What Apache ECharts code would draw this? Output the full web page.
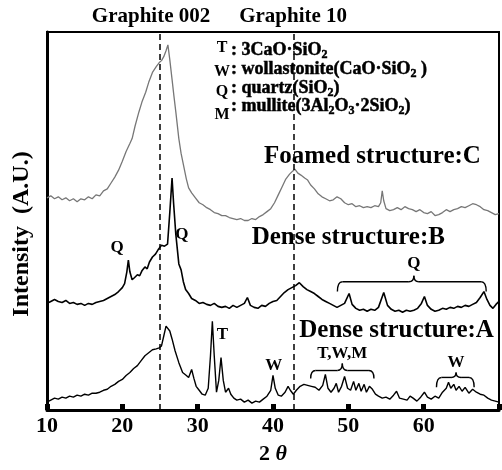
<!DOCTYPE html>
<html>
<head>
<meta charset="utf-8">
<script src="https://cdn.jsdelivr.net/npm/echarts@6/dist/echarts.min.js"></script>
<style>
html, body { margin: 0; padding: 0; background: #fff; }
#chart { width: 502px; height: 470px; }
</style>
</head>
<body>
<div id="chart"></div>
<script>
// 2theta (deg), intensity (arbitrary units)
var foamedC = [
    [10.0,215],[10.5,217],[11.0,214],[11.5,216],[12.0,213],[12.5,215],[13.0,212],[13.5,214],
    [14.0,211],[14.5,214],[15.0,213],[15.5,216],[16.0,214],[16.5,218],[17.0,217],[17.5,222],
    [18.0,224],[18.5,230],[19.0,236],[19.5,243],[20.0,252],[20.5,262],[21.0,270],[21.3,275],
    [21.7,288],[22.2,302],[22.6,312],[23.1,322],[23.5,332],[24.0,342],[24.5,348],[24.9,352],
    [25.2,354],[25.5,358],[25.8,364],[26.05,370],[26.3,355],[26.6,335],[26.85,318],[27.1,302],
    [27.5,275],[27.8,260],[28.2,245],[28.5,234],[28.8,225],[29.2,220],[29.7,215],[30.2,210],
    [30.7,208],[31.2,205],[31.7,203],[32.2,200],[32.7,199],[33.2,197],[33.7,197],[34.2,195],
    [34.7,194],[35.2,193],[35.7,194],[36.2,192],[36.7,192],[37.2,194],[37.7,193],[38.2,196],
    [38.7,198],[39.2,201],[39.7,204],[40.2,210],[40.7,218],[41.2,226],[41.7,234],[42.2,239],
    [42.6,242],[42.9,244],[43.3,240],[43.7,238],[44.2,235],[44.6,233],[45.0,228],[45.5,224],
    [46.0,219],[46.5,216],[47.0,214],[47.5,212],[48.0,213],[48.5,216],[49.0,214],[49.5,210],
    [50.0,208],[50.5,209],[51.0,206],[51.5,207],[52.0,205],[52.5,206],[53.0,205],[53.5,207],
    [54.0,206],[54.3,210],[54.5,222],[54.7,212],[55.0,204],[55.5,202],[56.0,203],[56.5,205],
    [57.0,203],[57.5,206],[58.0,204],[58.5,203],[59.0,201],[59.5,203],[60.0,200],[60.5,199],
    [61.0,201],[61.5,197],[62.0,198],[62.5,200],[63.0,203],[63.5,201],[64.0,203],[64.5,204],
    [65.0,206],[65.5,205],[66.0,207],[66.5,209],[67.0,208],[67.5,206],[68.0,203],[68.5,202],
    [69.0,200],[69.5,198],[70.0,199]
];
var denseB = [
    [10.0,108],[10.5,110],[11.0,112],[11.5,110],[12.0,109],[12.5,111],[13.0,108],[13.5,109],
    [14.0,107],[14.5,108],[15.0,106],[15.5,108],[16.0,107],[16.5,109],[17.0,110],[17.5,111],
    [18.0,113],[18.5,115],[19.0,117],[19.5,120],[20.0,124],[20.3,128],[20.6,140],[20.8,152],
    [21.0,140],[21.3,132],[21.6,134],[22.0,137],[22.3,136],[22.6,141],[23.0,145],[23.3,143],
    [23.6,150],[24.0,155],[24.4,158],[24.8,163],[25.2,167],[25.6,166],[26.0,168],[26.3,200],
    [26.6,235],[26.8,210],[27.1,178],[27.5,148],[27.8,142],[28.1,130],[28.4,122],[28.8,118],
    [29.2,113],[29.7,111],[30.2,108],[30.7,109],[31.2,107],[31.7,106],[32.2,108],[32.7,105],
    [33.2,104],[33.7,105],[34.2,103],[34.7,106],[35.2,104],[35.7,106],[36.2,108],[36.6,114],
    [37.0,106],[37.5,104],[38.0,103],[38.5,106],[39.0,105],[39.5,108],[40.0,110],[40.5,111],
    [41.0,115],[41.5,119],[42.0,122],[42.5,124],[43.0,126],[43.5,129],[44.0,125],[44.5,122],
    [45.0,120],[45.5,118],[46.0,115],[46.5,112],[47.0,110],[47.5,108],[48.0,106],[48.5,104],
    [49.0,106],[49.5,108],[50.1,118],[50.5,107],[51.0,103],[51.5,101],[52.0,102],[52.5,100],
    [53.0,102],[53.5,101],[54.0,104],[54.7,119],[55.2,106],[55.7,102],[56.2,100],[56.7,101],
    [57.2,99],[57.7,101],[58.2,100],[58.7,101],[59.2,103],[59.7,108],[60.1,115],[60.5,106],
    [61.0,102],[61.5,100],[62.0,101],[62.5,103],[63.0,102],[63.5,104],[64.0,103],[64.5,105],
    [65.0,104],[65.5,106],[66.0,105],[66.5,107],[67.0,109],[67.5,114],[68.0,120],[68.4,112],
    [68.8,106],[69.2,103],[69.6,107],[70.0,110]
];
var denseA = [
    [10.0,8],[10.5,10],[11.0,12],[11.5,11],[12.0,13],[12.5,12],[13.0,14],[13.5,13],
    [14.0,15],[14.5,14],[15.0,16],[15.5,15],[16.0,17],[16.5,17],[17.0,18],[17.5,20],
    [18.0,21],[18.5,24],[19.0,26],[19.5,29],[20.0,31],[20.5,35],[21.0,38],[21.5,42],
    [22.0,45],[22.5,50],[23.0,55],[23.5,58],[24.0,61],[24.5,62],[24.9,63],[25.2,65],
    [25.5,75],[25.8,85],[26.0,87],[26.3,80],[26.6,72],[27.0,60],[27.5,48],[28.0,38],
    [28.5,35],[28.8,33],[29.2,41],[29.5,32],[29.8,24],[30.2,20],[30.6,16],[31.0,15],
    [31.4,22],[31.7,55],[31.95,90],[32.2,55],[32.5,18],[32.8,30],[33.1,53],[33.4,30],
    [33.7,18],[34.1,22],[34.4,16],[34.8,12],[35.2,10],[35.7,11],[36.2,8],[36.7,10],
    [37.2,7],[37.7,9],[38.2,8],[38.7,11],[39.2,14],[39.7,20],[40.0,35],[40.3,22],
    [40.7,15],[41.1,14],[41.6,18],[42.0,24],[42.3,20],[42.7,16],[43.1,20],[43.6,24],
    [44.1,26],[44.6,25],[45.1,24],[45.6,23],[46.1,20],[46.6,25],[46.95,36],[47.3,22],
    [47.7,18],[48.1,22],[48.4,27],[48.7,18],[49.1,24],[49.5,34],[49.9,22],[50.3,20],
    [50.7,29],[51.0,20],[51.4,27],[51.7,19],[52.1,26],[52.4,18],[52.8,24],[53.2,21],
    [53.6,16],[54.0,14],[54.5,12],[55.0,13],[55.5,11],[56.0,15],[56.4,19],[56.8,12],
    [57.3,11],[57.8,10],[58.2,14],[58.6,12],[59.1,9],[59.6,13],[60.1,18],[60.5,13],
    [61.0,11],[61.5,14],[62.0,12],[62.5,18],[63.0,22],[63.3,28],[63.6,22],[64.0,26],
    [64.3,20],[64.7,24],[65.1,19],[65.5,23],[66.0,17],[66.5,21],[67.0,18],[67.5,16],
    [68.0,15],[68.5,12],[69.0,10],[69.5,9],[70.0,8]
];
var graphiteAngles = [25, 42.8];
var graphiteNames = ['Graphite 002', 'Graphite 10'];

// peak labels and structure names, placed in data coordinates
var peakLabels = [
    ['Q', 19.3, 165], ['Q', 27.9, 178], ['Q', 58.7, 148],
    ['T', 33.3, 76], ['W', 40.1, 45], ['T,W,M', 49.2, 57], ['W', 64.3, 48]
];
var structLabels = [
    ['Foamed structure:C', 53.2, 257],
    ['Dense structure:B', 50.0, 175],
    ['Dense structure:A', 56.4, 80]
];
// braces: x from, x to, x of tip, y of ends, y of bar, y of tip
var braces = [
    [48.55, 68.3, 58.7, 120, 130, 136],
    [45.0, 53.4, 49.2, 32, 40, 47],
    [61.7, 66.7, 64.3, 23, 33, 38]
];

// phase key: letter, then text pieces (1 = subscript)
var keyLetters = [['T', 48], ['W', 72], ['Q', 92], ['M', 115]];
var keyLines = [
    [50, [[': 3CaO·SiO', 0], ['2', 1]]],
    [69, [[': wollastonite(CaO·SiO', 0], ['2', 1], [' )', 0]]],
    [88, [[': quartz(SiO', 0], ['2', 1], [')', 0]]],
    [106, [[': mullite(3Al', 0], ['2', 1], ['O', 0], ['3', 1], ['·2SiO', 0], ['2', 1], [')', 0]]]
];

var serif = '"Liberation Serif", "DejaVu Serif", serif';
var chart = echarts.init(document.getElementById('chart'));

var option = {
    animation: false,
    grid: {
        left: 47, right: 0, top: 32, bottom: 55,
        show: true, borderColor: '#000', borderWidth: 2, backgroundColor: 'transparent'
    },
    xAxis: {
        type: 'value', min: 10, max: 70, interval: 10,
        axisLine: { lineStyle: { color: '#000', width: 3 } },
        axisTick: { inside: true, length: 6, lineStyle: { color: '#000', width: 5 } },
        splitLine: { show: false },
        axisLabel: {
            color: '#000', fontFamily: serif, fontWeight: 'bold', fontSize: 22, margin: 5,
            formatter: function (v) { return v >= 70 ? '' : v; }
        },
        name: '{a|2 }{b|θ}', nameLocation: 'middle', nameGap: 33,
        nameTextStyle: {
            rich: {
                a: { fontFamily: serif, fontWeight: 'bold', fontSize: 22, color: '#000' },
                b: { fontFamily: serif, fontWeight: 'bold', fontSize: 22, fontStyle: 'italic', color: '#000' }
            }
        }
    },
    yAxis: {
        type: 'value', min: 0, max: 383,
        axisLine: { show: true, lineStyle: { color: '#000', width: 3 } },
        axisTick: { show: false },
        axisLabel: { show: false },
        splitLine: { show: false }
    },
    series: [
        {
            name: 'C', type: 'line', data: foamedC, showSymbol: false,
            lineStyle: { color: '#777', width: 1.3 }
        },
        {
            name: 'B', type: 'line', data: denseB, showSymbol: false,
            lineStyle: { color: '#000', width: 1.6 }
        },
        {
            name: 'A', type: 'line', data: denseA, showSymbol: false,
            lineStyle: { color: '#000', width: 1.4 },
            markLine: {
                silent: true, symbol: 'none',
                label: { show: false },
                lineStyle: { color: '#000', type: [6, 4], width: 1.5 },
                data: graphiteAngles.map(function (a) { return { xAxis: a }; })
            }
        }
    ]
};
chart.setOption(option);

function px(x, y) {
    return chart.convertToPixel({ gridIndex: 0 }, [x, y]);
}

var g = [];
var boldText = function (txt, p, size, align, heavy) {
    var style = {
        text: txt, fill: '#000', align: align || 'center', verticalAlign: 'middle',
        font: 'bold ' + size + 'px ' + serif
    };
    if (heavy) {
        style.stroke = '#000';
        style.lineWidth = heavy;
    }
    return { type: 'text', x: p[0], y: p[1], z: 100, style: style };
};

graphiteAngles.forEach(function (a, i) {
    var p = px(a, 0);
    g.push(boldText(graphiteNames[i], [p[0] + (i === 0 ? -9 : -1), 17], 21));
});
peakLabels.forEach(function (l) { g.push(boldText(l[0], px(l[1], l[2]), 17)); });
structLabels.forEach(function (l) { g.push(boldText(l[0], px(l[1], l[2]), 25)); });
keyLetters.forEach(function (k) { g.push(boldText(k[0], [222, k[1]], 16)); });

// key lines laid out piece by piece so subscripts sit low
var ctx = document.createElement('canvas').getContext('2d');
keyLines.forEach(function (line) {
    var x = 231;
    line[1].forEach(function (piece) {
        var size = piece[1] ? 12 : 18;
        ctx.font = 'bold ' + size + 'px ' + serif;
        g.push(boldText(piece[0], [x, line[0] + (piece[1] ? 5 : 0)], size, 'left', 0.5));
        x += ctx.measureText(piece[0]).width;
    });
});

braces.forEach(function (b) {
    var l = px(b[0], b[3]), r = px(b[1], b[3]), lb = px(b[0], b[4]), rb = px(b[1], b[4]);
    var c = px(b[2], b[4]), t = px(b[2], b[5]);
    var k = 5;
    var st = { stroke: '#000', lineWidth: 1.4, fill: null };
    g.push({ type: 'bezierCurve', z: 100, shape: { x1: l[0], y1: l[1], cpx1: lb[0], cpy1: lb[1], x2: lb[0] + k, y2: lb[1] }, style: st });
    g.push({ type: 'line', z: 100, shape: { x1: lb[0] + k, y1: lb[1], x2: c[0] - k, y2: c[1] }, style: st });
    g.push({ type: 'bezierCurve', z: 100, shape: { x1: c[0] - k, y1: c[1], cpx1: c[0], cpy1: c[1], x2: t[0], y2: t[1] }, style: st });
    g.push({ type: 'bezierCurve', z: 100, shape: { x1: t[0], y1: t[1], cpx1: c[0], cpy1: c[1], x2: c[0] + k, y2: c[1] }, style: st });
    g.push({ type: 'line', z: 100, shape: { x1: c[0] + k, y1: c[1], x2: rb[0] - k, y2: rb[1] }, style: st });
    g.push({ type: 'bezierCurve', z: 100, shape: { x1: rb[0] - k, y1: rb[1], cpx1: rb[0], cpy1: rb[1], x2: r[0], y2: r[1] }, style: st });
});

g.push({
    type: 'text', x: 22, y: 234, rotation: Math.PI / 2, z: 100,
    style: {
        text: 'Intensity  (A.U.)', fill: '#000', align: 'center', verticalAlign: 'middle',
        font: 'bold 24px ' + serif
    }
});

chart.setOption({ graphic: g });
</script>
</body>
</html>
